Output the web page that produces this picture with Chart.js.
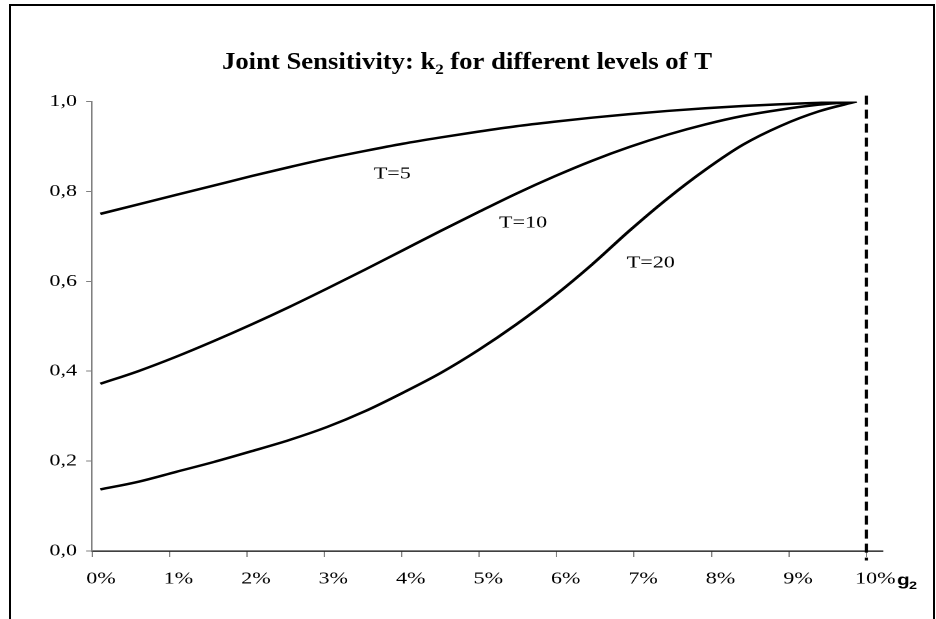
<!DOCTYPE html>
<html>
<head>
<meta charset="utf-8">
<script src="https://cdn.jsdelivr.net/npm/chart.js@4.4.1/dist/chart.umd.min.js"></script>
<style>
  html, body { margin: 0; padding: 0; background: #fff; overflow: hidden; }
  #wrap { position: relative; width: 936px; height: 619px; overflow: hidden; }
  /* the original figure is stretched sideways, so the canvas is too */
  #myChart { position: absolute; left: 0; top: 0; transform: scaleX(1.3); transform-origin: 0 0; }
  #frame { position: absolute; left: 9px; top: 4px; width: 922px; height: 700px;
           border: 2px solid #000; pointer-events: none; }
</style>
</head>
<body>
<div id="wrap">
  <canvas id="myChart" width="720" height="619"></canvas>
  <div id="frame"></div>
</div>
<script>
// Chart data (g2 in %)
const g2 = [0, 0.5, 1, 1.5, 2, 2.5, 3, 3.5, 4, 4.5, 5, 5.5, 6, 6.5, 7, 7.5, 8, 8.5, 9, 9.5, 10];
const k2T5 = [0.750, 0.771, 0.792, 0.813, 0.834, 0.854, 0.873, 0.890, 0.906, 0.920, 0.933,
              0.945, 0.955, 0.964, 0.972, 0.979, 0.985, 0.990, 0.994, 0.997, 1.000];
const k2T10 = [0.372, 0.400, 0.432, 0.467, 0.504, 0.543, 0.584, 0.626, 0.669, 0.712, 0.754,
               0.795, 0.833, 0.868, 0.899, 0.926, 0.949, 0.968, 0.982, 0.993, 1.000];
const k2T20 = [0.137, 0.154, 0.176, 0.198, 0.222, 0.247, 0.276, 0.311, 0.352, 0.396, 0.447,
               0.504, 0.567, 0.637, 0.713, 0.784, 0.848, 0.904, 0.946, 0.978, 1.000];
const xTickLabels = ['0%', '1%', '2%', '3%', '4%', '5%', '6%', '7%', '8%', '9%', '10%'];
const curveLabels = [
  { text: 'T=5', x: 3.86, y: 0.839 },
  { text: 'T=10', x: 5.59, y: 0.730 },
  { text: 'T=20', x: 7.28, y: 0.641 },
];
const limitX = 10.13;

const S = 1.3; // horizontal stretch
const serif = '"Liberation Serif", "Times New Roman", serif';
const sans = '"Liberation Sans", Arial, sans-serif';

function pts(vals) {
  return vals.map((v, i) => ({ x: g2[i], y: v }));
}
function curve(label, vals) {
  return {
    type: 'line',
    label: label,
    data: pts(vals),
    borderColor: '#000',
    borderWidth: 2.5,
    pointRadius: 0,
    cubicInterpolationMode: 'monotone',
  };
}

// title with subscript, text on curves, g2 axis name
const extras = {
  id: 'extras',
  afterDatasetsDraw(chart) {
    const c = chart.ctx;
    const xs = chart.scales.x, ys = chart.scales.y;
    c.save();
    c.fillStyle = '#000';
    c.textBaseline = 'alphabetic';

    // title, squeezed to the width of the original
    const t1 = 'Joint Sensitivity: k', t2 = '2', t3 = ' for different levels of T';
    const big = 'bold 24px ' + serif, small = 'bold 15px ' + serif;
    c.font = big;
    const w1 = c.measureText(t1).width, w3 = c.measureText(t3).width;
    c.font = small;
    const w2 = c.measureText(t2).width;
    const total = w1 + w2 + w3;
    const k = (490 / S) / total;
    c.save();
    c.translate(467 / S - (total * k) / 2, 0);
    c.scale(k, 1);
    c.textAlign = 'left';
    c.font = big; c.fillText(t1, 0, 69);
    c.font = small; c.fillText(t2, w1, 74);
    c.font = big; c.fillText(t3, w1 + w2, 69);
    c.restore();

    // curve labels
    c.font = '17px ' + serif;
    c.textAlign = 'center';
    c.textBaseline = 'middle';
    curveLabels.forEach(l => {
      c.fillText(l.text, xs.getPixelForValue(l.x), ys.getPixelForValue(l.y));
    });

    // axis name g2
    c.textAlign = 'left';
    c.textBaseline = 'alphabetic';
    c.font = 'bold 16px ' + sans;
    c.fillText('g', 897 / S, 585);
    c.font = 'bold 11px ' + sans;
    c.fillText('2', 909 / S, 589);
    c.restore();
  }
};

const ctx = document.getElementById('myChart').getContext('2d');
const SensChart = new Chart(ctx, {
  type: 'line',
  data: {
    datasets: [
      curve('T=5', k2T5),
      curve('T=10', k2T10),
      curve('T=20', k2T20),
      {
        type: 'line',
        label: 'limit',
        data: [{ x: limitX, y: 1.013 }, { x: limitX, y: -0.021 }],
        borderColor: '#000',
        borderWidth: 2.3,
        borderDash: [9, 5],
        pointRadius: 0,
        clip: false,
      },
    ],
  },
  plugins: [extras],
  options: {
    responsive: false,
    animation: false,
    devicePixelRatio: 2,
    layout: { padding: { left: 0, right: 720 - 883 / S, top: 101.5, bottom: 0 } },
    plugins: {
      legend: { display: false },
      tooltip: { enabled: false },
      title: { display: false },
    },
    scales: {
      x: {
        type: 'linear',
        min: -0.11,
        max: 10.35,
        afterFit: s => { s.height = 68; },
        afterBuildTicks: s => {
          s.ticks = xTickLabels.map((t, i) => ({ value: -0.11 + i * 1.024 }));
        },
        border: { color: '#000', width: 1.3 },
        grid: { drawOnChartArea: false, color: '#808080', tickLength: 6 },
        ticks: {
          color: '#000',
          font: { family: serif, size: 17 },
          padding: 12,
          labelOffset: 9 / S,
          maxRotation: 0,
          autoSkip: false,
          callback: (v, i) => xTickLabels[i],
        },
      },
      y: {
        min: 0,
        max: 1,
        afterFit: s => { s.width = 92 / S; },
        border: { color: '#808080', width: 1.2 },
        grid: { drawOnChartArea: false, color: '#808080', tickLength: 6 / S },
        ticks: {
          stepSize: 0.2,
          color: '#000',
          font: { family: serif, size: 17 },
          padding: 9 / S,
          callback: v => v.toFixed(1).replace('.', ','),
        },
      },
    },
  },
});
</script>
</body>
</html>
